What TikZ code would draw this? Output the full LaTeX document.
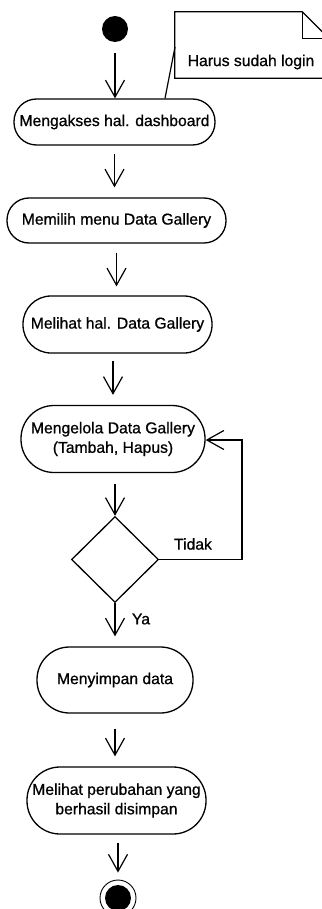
\documentclass[tikz,border=0pt]{standalone}
\usepackage{fontspec}
\setmainfont{Liberation Sans}
\newfontfamily\heavyfont{Liberation Sans}[FakeBold=0.8]
\usetikzlibrary{arrows.meta,shapes.geometric,calc}
\begin{document}
\begin{tikzpicture}[x=1pt,y=-1pt,
  txt/.style={font=\heavyfont\fontsize{15.7}{19.5}\selectfont, inner sep=0pt, align=center},
  act/.style={txt, draw, line width=1.3pt},
  arr/.style={line width=1.2pt, -{Straight Barb[length=17pt,width=19pt,line width=1.2pt]}},
  lin/.style={line width=1.2pt}
]
\useasboundingbox (0,0) rectangle (321,909);

% start
\node[circle, fill, minimum size=26pt, inner sep=0pt] (s) at (115,29) {};

% note
\node[minimum width=154pt, minimum height=66pt, inner sep=0pt] (note) at (252,45) {};
\draw[lin] (note.north west) -- ($(note.north east)+(-27,0)$) -- ($(note.north east)+(0,27)$)
  -- (note.south east) -- (note.south west) -- cycle;
\draw[lin] ($(note.north east)+(-27,0)$) -- ($(note.north east)+(-27,27)$) -- ($(note.north east)+(0,27)$);
\node[txt] (notetext) at (251,62) {Harus sudah login};

% activities
\node[act, minimum width=201pt, minimum height=46pt, rounded corners=22.5pt] (n1) at (114.5,122) {Mengakses hal. dashboard};
\node[act, minimum width=219pt, minimum height=45pt, rounded corners=22pt] (n2) at (116.5,220.5) {Memilih menu Data Gallery};
\node[act, minimum width=189pt, minimum height=57pt, rounded corners=28pt] (n3) at (117.5,324.5) {Melihat hal. Data Gallery};
\node[act, minimum width=184pt, minimum height=67pt, rounded corners=33pt] (n4) at (113,439) {Mengelola Data Gallery\\(Tambah, Hapus)};
\node[diamond, draw, line width=1.3pt, minimum width=87pt, minimum height=86pt, inner sep=0pt] (d) at (115,559.5) {};
\node[act, minimum width=156pt, minimum height=66pt, rounded corners=32.5pt] (n5) at (115,680) {Menyimpan data};
\node[act, minimum width=179pt, minimum height=67pt, rounded corners=33pt] (n6) at (116.5,800.5) {Melihat perubahan yang\\berhasil disimpan};

% end
\node[circle, draw, line width=0.9pt, minimum size=36pt, inner sep=0pt] (e) at (118,898) {};
\node[circle, fill, minimum size=26pt, inner sep=0pt] (ein) at (e.center) {};

% note connector
\coordinate (nc) at (175,47);
\coordinate (na) at ($(n1.north)+(50.5,0)$);
\draw[lin] (nc) -- (na);

% flow
\draw[arr, shorten <=11pt] (s) -- (s |- n1.north);
\draw[arr, shorten <=8pt, shorten >=10pt] (n1.south) -- (n1.south |- n2.north);
\draw[arr, shorten <=9pt, shorten >=9pt] (n2.south) -- (n2.south |- n3.north);
\draw[arr, shorten <=7pt, shorten >=10pt] (n3.south -| n4.south) -- (n4.north);
\draw[arr, shorten <=11pt] (n4.south -| d.north) -- (d.north);
\draw[arr, shorten >=10pt] (d.south) -- (d.south |- n5.north);
\draw[arr, shorten <=15pt, shorten >=10pt] (n5.south) -- (n5.south |- n6.north);
\draw[arr, shorten <=8pt, shorten >=7pt] (n6.south -| e.north) -- (e.north);

% loop back
\coordinate (t1) at (242,440);
\draw[arr] (d.east) -| (t1) -- (t1 -| n4.east);
\node[txt] (tidak) at (193,544) {Tidak};
\node[txt] (ya) at (141,619) {Ya};
\end{tikzpicture}
\end{document}
